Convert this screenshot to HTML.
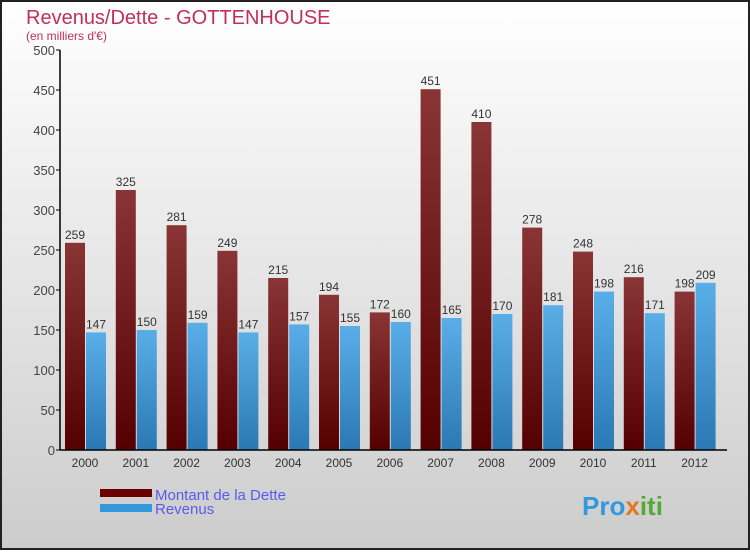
<!DOCTYPE html>
<html><head><meta charset="utf-8"><style>
body{margin:0;width:750px;height:550px;overflow:hidden;font-family:"Liberation Sans",sans-serif}
</style></head><body>
<svg width="750" height="550" viewBox="0 0 750 550" xmlns="http://www.w3.org/2000/svg">
<defs>
<linearGradient id="bg" x1="0" y1="0" x2="0" y2="1"><stop offset="0" stop-color="#ffffff"/><stop offset="1" stop-color="#cccccc"/></linearGradient>
<linearGradient id="gd" x1="0" y1="0" x2="0" y2="1"><stop offset="0" stop-color="#8a3535"/><stop offset="1" stop-color="#550000"/></linearGradient>
<linearGradient id="gr" x1="0" y1="0" x2="0" y2="1"><stop offset="0" stop-color="#5aaee8"/><stop offset="1" stop-color="#2a78b4"/></linearGradient>
</defs>
<rect x="1" y="1" width="748" height="548" fill="url(#bg)" stroke="#222" stroke-width="2"/>
<text x="26" y="24" font-size="20" fill="#c0305a">Revenus/Dette - GOTTENHOUSE</text>
<text x="26" y="40" font-size="12" fill="#c0305a">(en milliers d'€)</text>
<g id="plot"></g>
<rect x="100" y="489" width="52" height="8" fill="#6a0000"/>
<text x="155" y="500" font-size="15" fill="#5a5af0">Montant de la Dette</text>
<rect x="100" y="504" width="52" height="8" fill="#3399dd"/>
<text x="155" y="514" font-size="15" fill="#5a5af0">Revenus</text>
<text x="582" y="515" font-size="26" font-weight="bold" fill="#3399dd">Pro<tspan fill="#e07a1a">x</tspan><tspan fill="#55aa33">iti</tspan></text>
</svg>
<script>
const years=["2000","2001","2002","2003","2004","2005","2006","2007","2008","2009","2010","2011","2012"];
const dette=[259,325,281,249,215,194,172,451,410,278,248,216,198];
const revenus=[147,150,159,147,157,155,160,165,170,181,198,171,209];
const ticks=[0,50,100,150,200,250,300,350,400,450,500];
const NS="http://www.w3.org/2000/svg";
const g=document.getElementById("plot");
const x0=60,y0=450,ppu=0.8,step=50.8;
const y=v=>y0-v*ppu;
function mk(t,a,txt){const e=document.createElementNS(NS,t);for(const k in a)e.setAttribute(k,a[k]);if(txt!==undefined)e.textContent=txt;g.appendChild(e);return e;}
ticks.forEach(t=>{
 const tk=mk("line",{x1:x0-4,x2:x0,y1:y(t),y2:y(t),stroke:"#000"});
 
 
 const l=mk("text",{x:x0-5,y:y(t)+5,"font-size":13,fill:"#444","text-anchor":"end"},t);
 
 
});
years.forEach((yr,i)=>{
 const gx=x0+5+i*step;
 const b1=mk("rect",{x:gx,y:y(dette[i]),width:20,height:dette[i]*ppu,fill:"url(#gd)"});
 
 
 const b2=mk("rect",{x:gx+21,y:y(revenus[i]),width:20,height:revenus[i]*ppu,fill:"url(#gr)"});
 
 
 const v1=mk("text",{x:gx+10,y:y(dette[i])-4,"font-size":12,fill:"#333","text-anchor":"middle"},dette[i]);
 
 
 const v2=mk("text",{x:gx+31,y:y(revenus[i])-4,"font-size":12,fill:"#333","text-anchor":"middle"},revenus[i]);
 
 
 const xl=mk("text",{x:gx+20,y:467,"font-size":12,fill:"#333","text-anchor":"middle"},yr);
 
 
});
const ya=mk("line",{x1:x0,x2:x0,y1:y(500),y2:y0,stroke:"#000","stroke-width":1.5});


const xa=mk("line",{x1:x0,x2:727,y1:y0,y2:y0,stroke:"#000","stroke-width":1.5});


</script>
</body></html>
